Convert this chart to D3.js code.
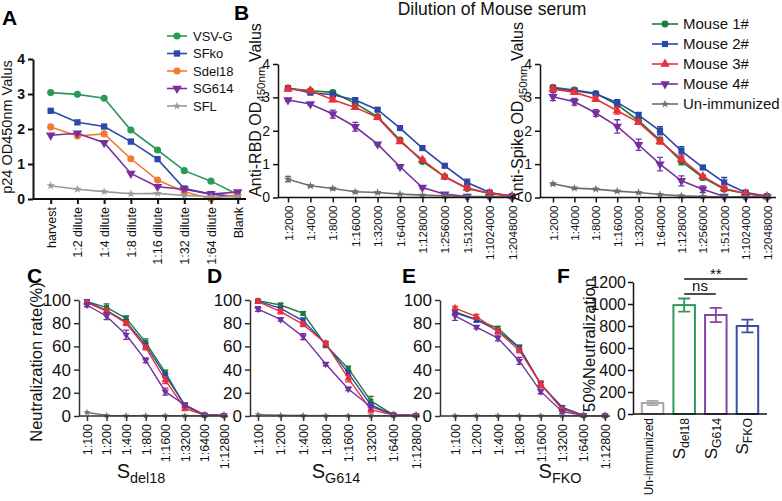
<!DOCTYPE html>
<html><head><meta charset="utf-8">
<script src="https://cdn.jsdelivr.net/npm/d3@7"></script>
<style>body{margin:0;background:#fff} svg{display:block;font-family:"Liberation Sans",Arial,sans-serif}</style>
</head><body><svg id="c" width="782" height="501"></svg>
<script>
// ---------- DATA ----------
const aCategories = ["harvest","1:2 dilute","1:4 dilute","1:8 dilute","1:16 dilute","1:32 dilute","1:64 dilute","Blank"];
const aSeriesNames = ["VSV-G","SFko","Sdel18","SG614","SFL"];
const aVSVG   = [3.04, 2.99, 2.88, 1.97, 1.40, 0.81, 0.51, 0.13];
const aSFko   = [2.52, 2.19, 2.07, 1.64, 1.14, 0.30, 0.14, 0.07];
const aSdel18 = [2.06, 1.80, 1.86, 1.15, 0.54, 0.21, 0.01, 0.13];
const aSG614  = [1.82, 1.88, 1.61, 0.73, 0.35, 0.28, 0.14, 0.20];
const aSFL    = [0.38, 0.28, 0.21, 0.15, 0.16, 0.10, 0.07, 0.06];
const aYTicks = [0,1,2,3,4];

const bCategories = ["1:2000","1:4000","1:8000","1:16000","1:32000","1:64000","1:128000","1:256000","1:512000","1:1024000","1:2048000"];
const mouseNames = ["Mouse 1#","Mouse 2#","Mouse 3#","Mouse 4#","Un-immunized"];
const rbdM1 = [3.27, 3.20, 3.15, 2.82, 2.42, 1.72, 1.08, 0.62, 0.27, 0.12, 0.04];
const rbdM2 = [3.28, 3.14, 3.08, 2.92, 2.63, 2.08, 1.48, 0.95, 0.45, 0.15, 0.04];
const rbdM3 = [3.25, 3.20, 2.93, 2.70, 2.40, 1.68, 1.13, 0.62, 0.28, 0.13, 0.04];
const rbdM4 = [2.92, 2.80, 2.50, 2.12, 1.60, 0.92, 0.30, 0.10, 0.03, 0.02, 0.01];
const rbdUn = [0.55, 0.35, 0.27, 0.17, 0.15, 0.10, 0.07, 0.05, 0.03, 0.03, 0.02];
const rbdErrM1 = [0.04,0.03,0.05,0.05,0.04,0.04,0.05,0.03,0.03,0.02,0.01];
const rbdErrM2 = [0.05,0.04,0.06,0.05,0.04,0.04,0.05,0.05,0.10,0.03,0.01];
const rbdErrM3 = [0.04,0.04,0.06,0.06,0.04,0.05,0.04,0.04,0.03,0.02,0.01];
const rbdErrM4 = [0.04,0.04,0.12,0.13,0.04,0.04,0.04,0.03,0.01,0.01,0.01];
const rbdErrUn = [0.08,0.03,0.03,0.02,0.02,0.01,0.01,0.01,0.01,0.01,0.01];
const spkM1 = [3.30, 3.22, 3.12, 2.78, 2.30, 1.72, 1.08, 0.60, 0.25, 0.12, 0.03];
const spkM2 = [3.27, 3.20, 3.10, 2.85, 2.47, 2.00, 1.40, 0.90, 0.45, 0.15, 0.04];
const spkM3 = [3.25, 3.15, 2.95, 2.60, 2.25, 1.68, 1.15, 0.63, 0.27, 0.12, 0.03];
const spkM4 = [3.02, 2.87, 2.53, 2.13, 1.58, 1.00, 0.50, 0.25, 0.03, 0.02, 0.01];
const spkUn = [0.41, 0.28, 0.25, 0.19, 0.15, 0.09, 0.05, 0.03, 0.02, 0.02, 0.01];
const spkErrM1 = [0.06,0.06,0.05,0.08,0.08,0.08,0.10,0.07,0.05,0.03,0.01];
const spkErrM2 = [0.06,0.06,0.05,0.08,0.08,0.12,0.12,0.04,0.15,0.04,0.01];
const spkErrM3 = [0.06,0.06,0.07,0.10,0.06,0.08,0.08,0.05,0.05,0.03,0.01];
const spkErrM4 = [0.12,0.10,0.10,0.20,0.17,0.20,0.15,0.10,0.02,0.01,0.01];
const spkErrUn = [0.03,0.02,0.02,0.02,0.02,0.01,0.01,0.01,0.01,0.01,0.01];
const bYTicks = [0,1,2,3,4];

const nCategories = ["1:100","1:200","1:400","1:800","1:1600","1:3200","1:6400","1:12800"];
const nYTicks = [0,20,40,60,80,100];
const cM1 = [98.6, 93.7, 84.2, 63.5, 37.6, 8.6, 0.9, 0.5];
const cM2 = [98.5, 91.0, 81.0, 61.0, 35.0, 9.5, 0.8, 0.5];
const cM3 = [97.7, 90.5, 80.0, 59.0, 31.0, 6.6, 0.8, 0.5];
const cM4 = [95.7, 86.0, 70.0, 48.0, 21.0, 9.5, 0.9, 0.5];
const cUn = [3.0, 0.5, 0.3, 0.3, 0.3, 0.3, 0.3, 0.3];
const cErrM1 = [1.5,3,2,3,2,1.5,0.5,0.3];
const cErrM2 = [1.5,2,2,2,2,1.5,0.5,0.3];
const cErrM3 = [1.5,2,2,2,3,2,0.5,0.3];
const cErrM4 = [1.5,3,4,2,3,1.5,0.5,0.3];
const dM1 = [99.5, 95.7, 88.5, 61.0, 41.0, 13.0, 1.0, 0.5];
const dM2 = [99.0, 92.8, 82.0, 62.0, 37.0, 9.5, 1.0, 0.5];
const dM3 = [98.6, 90.0, 79.0, 62.6, 32.5, 5.2, 1.0, 0.5];
const dM4 = [92.2, 83.3, 68.4, 44.8, 23.3, 8.0, 1.0, 0.5];
const dUn = [1.2, 0.6, 0.4, 0.3, 0.3, 0.3, 0.3, 0.3];
const dErrM1 = [1,1.5,1.5,2,2,4,0.5,0.3];
const dErrM2 = [1,1.5,2.5,2,2,2,0.5,0.3];
const dErrM3 = [1.5,2,2,2,3,2.5,0.5,0.3];
const dErrM4 = [2,1.5,2.5,1.5,1.5,2,0.5,0.3];
const eM1 = [90.0, 83.0, 75.7, 59.0, 27.0, 7.5, 0.5, 0.3];
const eM2 = [89.0, 83.0, 73.4, 58.8, 27.7, 7.3, 0.5, 0.3];
const eM3 = [93.0, 85.6, 73.0, 56.5, 27.7, 5.6, 0.5, 0.3];
const eM4 = [86.4, 76.6, 67.2, 47.5, 21.2, 3.7, 0.5, 0.3];
const eUn = [0.3, 0.3, 0.3, 0.3, 0.3, 0.3, 0.3, 0.3];
const eErrM1 = [2,2,1.5,2,2,1.5,0.5,0.3];
const eErrM2 = [2,2,1.5,2,2,1.5,0.5,0.3];
const eErrM3 = [1.5,2,2,2,2.5,1.5,0.5,0.3];
const eErrM4 = [4,1.5,2.5,3,2,1.5,0.5,0.3];

const fCategories = ["Un-immunized","Sdel18","SG614","SFKO"];
const fSubs = ["", "del18", "G614", "FKO"];
const fValues = [100, 990, 900, 800];
const fErrors = [20, 60, 65, 58];
const fYTicks = [0,200,400,600,800,1000,1200];

// ---------- STYLE ----------
const FONT = '"Liberation Sans",Arial,sans-serif';
const colA = ["#2b9a57","#2c48a8","#f47b2e","#7a2e9e","#9a9a9a"];
const colM = ["#1c7a3a","#2a46a8","#e8303a","#7530a0","#6e6e6e"];
const colF = ["#a8a8a8","#2e9a5a","#8a44a8","#3a4ea2"];
const symA = [d3.symbolCircle, d3.symbolSquare, d3.symbolCircle, "down", d3.symbolStar];
const symM = [d3.symbolCircle, d3.symbolSquare, d3.symbolTriangle, "down", d3.symbolStar];
const symN = [d3.symbolSquare, d3.symbolSquare, d3.symbolTriangle, "down", d3.symbolStar];
const fmtInt = d3.format("d");
const LABEL_ANGLE = -90;

const svg = d3.select("#c");

function drawSymbol(g, type, size, x, y, color) {
  if (type === "down") {
    g.append("path").attr("d", d3.symbol().type(d3.symbolTriangle).size(size)())
      .attr("transform", `translate(${x},${y}) rotate(180)`).attr("fill", color);
  } else {
    g.append("path").attr("d", d3.symbol().type(type).size(size)())
      .attr("transform", `translate(${x},${y})`).attr("fill", color);
  }
}

function rich(g, parts, size, anchor) {
  const t = g.append("text").attr("x", 0).attr("y", 0).attr("font-size", size)
    .attr("font-family", FONT).attr("fill", "#111").attr("text-anchor", anchor || "start");
  let shifted = false;
  parts.forEach(p => {
    const ts = t.append("tspan").text(p.t);
    if (p.sub) { ts.attr("dy", size * 0.24).attr("font-size", size * 0.72); shifted = true; }
    else if (shifted) { ts.attr("dy", -size * 0.24); shifted = false; }
  });
  return t;
}

function linePanel(o) {
  const g = svg.append("g");
  const x = d3.scalePoint().domain(o.cats).range(o.xr);
  const y = d3.scaleLinear().domain(o.yd).range(o.yr);
  o.series.forEach((s) => {
    const line = d3.line().x((d, i) => x(o.cats[i])).y(d => y(d));
    g.append("path").datum(s.v).attr("d", line).attr("fill", "none")
      .attr("stroke", s.c).attr("stroke-width", o.lw || 1.6);
    if (s.e) {
      s.v.forEach((v, i) => {
        const cx = x(o.cats[i]), e = s.e[i];
        const y1 = y(v + e), y2 = y(Math.max(0, v - e));
        g.append("path").attr("d", `M${cx},${y1}V${y2}M${cx-3},${y1}H${cx+3}M${cx-3},${y2}H${cx+3}`)
          .attr("stroke", s.c).attr("stroke-width", 1.3).attr("fill", "none");
      });
    }
    s.v.forEach((v, i) => drawSymbol(g, s.s, s.sz || 30, x(o.cats[i]), y(v), s.c));
  });
  const yAx = g.append("g").attr("transform", `translate(${o.ax},0)`)
    .call(d3.axisLeft(y).tickValues(o.yt).tickFormat(fmtInt).tickSize(o.tk || 5).tickSizeOuter(0).tickPadding(3));
  yAx.selectAll("text").attr("font-size", o.yfs).attr("font-family", FONT).attr("font-weight", o.yfw || "normal").attr("fill", "#111");
  const xAx = g.append("g").attr("transform", `translate(0,${y(0)})`)
    .call(d3.axisBottom(x).tickSize(o.tk || 5).tickSizeOuter(0));
  xAx.select(".domain").attr("d", `M${o.ax},0H${o.axEnd}`);
  xAx.selectAll(".tick text")
    .attr("x", 0).attr("y", 0).attr("dy", "0.35em").attr("text-anchor", "end")
    .attr("transform", `translate(0,${o.ly}) rotate(${LABEL_ANGLE})`)
    .attr("font-size", o.xfs).attr("font-family", FONT).attr("fill", "#111");
  [yAx, xAx].forEach(a => {
    a.selectAll(".domain").attr("stroke", o.axc || "#111").attr("stroke-width", o.aw || 1.5);
    a.selectAll(".tick line").attr("stroke", o.axc || "#111").attr("stroke-width", o.aw || 1.5);
  });
  return {g, x, y};
}

function panelLabel(txt, x, y) {
  svg.append("text").attr("x", x).attr("y", y).attr("font-size", 21).attr("font-weight", "bold")
    .attr("font-family", FONT).attr("fill", "#000").text(txt);
}

// ---------- PANEL A ----------
const aVals = [aVSVG, aSFko, aSdel18, aSG614, aSFL];
linePanel({
  cats: aCategories, xr: [50.7, 237.7], ax: 33, axEnd: 246,
  yd: [0, 4], yr: [199, 59], yt: aYTicks, yfs: 14, yfw: "bold", xfs: 12.5, ly: 8, aw: 2, lw: 1.6,
  series: aVals.map((v, i) => ({v, c: colA[i], s: symA[i], sz: i === 4 ? 22 : 40}))
});
svg.append("text").attr("transform", "translate(12,127) rotate(-90)").attr("text-anchor", "middle")
  .attr("font-size", 14.5).attr("font-family", FONT).attr("fill", "#111").text("p24 OD450nm Valus");
const legA = svg.append("g");
aSeriesNames.forEach((n, i) => {
  const yy = 36 + i * 17.5;
  legA.append("line").attr("x1", 167).attr("x2", 187).attr("y1", yy).attr("y2", yy).attr("stroke", colA[i]).attr("stroke-width", 1.6);
  drawSymbol(legA, symA[i], i === 4 ? 22 : 40, 177, yy, colA[i]);
  legA.append("text").attr("x", 193).attr("y", yy).attr("dy", "0.35em").attr("font-size", 13)
    .attr("font-family", FONT).attr("fill", "#111").text(n);
});
panelLabel("A", 2, 25);

// ---------- PANEL B ----------
const rbdVals = [rbdM1, rbdM2, rbdM3, rbdM4, rbdUn];
const rbdErrs = [rbdErrM1, rbdErrM2, rbdErrM3, rbdErrM4, rbdErrUn];
const spkVals = [spkM1, spkM2, spkM3, spkM4, spkUn];
const spkErrs = [spkErrM1, spkErrM2, spkErrM3, spkErrM4, spkErrUn];
linePanel({
  cats: bCategories, xr: [288, 512], ax: 278, axEnd: 516,
  yd: [0, 4], yr: [197.5, 64], yt: bYTicks, yfs: 14, xfs: 11.5, ly: 8, aw: 1.5, lw: 1.6,
  series: rbdVals.map((v, i) => ({v, e: rbdErrs[i], c: colM[i], s: symM[i], sz: i === 4 ? 22 : 38}))
});
linePanel({
  cats: bCategories, xr: [553, 767], ax: 540, axEnd: 776,
  yd: [0, 4], yr: [197.5, 64], yt: bYTicks, yfs: 14, xfs: 11.5, ly: 8, aw: 1.5, lw: 1.6,
  series: spkVals.map((v, i) => ({v, e: spkErrs[i], c: colM[i], s: symM[i], sz: i === 4 ? 22 : 38}))
});
rich(svg.append("g").attr("transform", "translate(261,110) rotate(-90)"),
  [{t: "Anti-RBD OD"}, {t: "450nm", sub: true}, {t: " Valus"}], 16, "middle");
rich(svg.append("g").attr("transform", "translate(523,112) rotate(-90)"),
  [{t: "Anti-Spike OD"}, {t: "450nm", sub: true}, {t: " Valus"}], 16, "middle");
svg.append("text").attr("x", 492).attr("y", 15).attr("text-anchor", "middle").attr("font-size", 17.5)
  .attr("font-family", FONT).attr("fill", "#111").text("Dilution of Mouse serum");
const legB = svg.append("g");
mouseNames.forEach((n, i) => {
  const yy = 24 + i * 20;
  legB.append("line").attr("x1", 652).attr("x2", 678).attr("y1", yy).attr("y2", yy).attr("stroke", colM[i]).attr("stroke-width", 1.6);
  drawSymbol(legB, symM[i], i === 4 ? 22 : 38, 665, yy, colM[i]);
  legB.append("text").attr("x", 683).attr("y", yy).attr("dy", "0.35em").attr("font-size", 15)
    .attr("font-family", FONT).attr("fill", "#111").text(n);
});
panelLabel("B", 234, 20);

// ---------- PANELS C, D, E ----------
const nPanels = [
  {vals: [cM1, cM2, cM3, cM4, cUn], errs: [cErrM1, cErrM2, cErrM3, cErrM4, null], xr: [87, 224], ax: 79, axEnd: 228, lab: "C", lx0: 27, sub: "del18", sx: 141},
  {vals: [dM1, dM2, dM3, dM4, dUn], errs: [dErrM1, dErrM2, dErrM3, dErrM4, null], xr: [258, 416], ax: 250, axEnd: 420, lab: "D", lx0: 207, sub: "G614", sx: 336},
  {vals: [eM1, eM2, eM3, eM4, eUn], errs: [eErrM1, eErrM2, eErrM3, eErrM4, null], xr: [455, 605], ax: 440, axEnd: 610, lab: "E", lx0: 402, sub: "FKO", sx: 560}
];
nPanels.forEach(p => {
  linePanel({
    cats: nCategories, xr: p.xr, ax: p.ax, axEnd: p.axEnd,
    yd: [0, 100], yr: [416, 300], yt: nYTicks, yfs: 17, xfs: 12.5, ly: 8, aw: 1.5, axc: "#333", lw: 1.4,
    series: p.vals.map((v, i) => ({v, e: p.errs[i], c: colM[i], s: symN[i], sz: i === 4 ? 16 : 24}))
  });
  panelLabel(p.lab, p.lx0, 283);
  rich(svg.append("g").attr("transform", `translate(${p.sx},478)`), [{t: "S"}, {t: p.sub, sub: true}], 20, "middle");
});
svg.append("text").attr("transform", "translate(42,362) rotate(-90)").attr("text-anchor", "middle")
  .attr("font-size", 16.5).attr("font-family", FONT).attr("fill", "#111").text("Neutralization rate(%)");

// ---------- PANEL F ----------
const gF = svg.append("g");
const xF = d3.scaleBand().domain(fCategories).range([638, 762]).paddingInner(0.32).paddingOuter(0.12);
const yF = d3.scaleLinear().domain([0, 1200]).range([414, 282]);
fCategories.forEach((c, i) => {
  const bx = xF(c), bw = xF.bandwidth(), cx = bx + bw / 2;
  gF.append("rect").attr("x", bx).attr("y", yF(fValues[i])).attr("width", bw).attr("height", yF(0) - yF(fValues[i]))
    .attr("fill", "#fff").attr("stroke", colF[i]).attr("stroke-width", 2);
  const y1 = yF(fValues[i] + fErrors[i]), y2 = yF(fValues[i] - fErrors[i]);
  gF.append("path").attr("d", `M${cx},${y1}V${y2}M${cx-6},${y1}H${cx+6}M${cx-6},${y2}H${cx+6}`)
    .attr("stroke", colF[i]).attr("stroke-width", 1.8).attr("fill", "none");
});
const yAxF = gF.append("g").attr("transform", "translate(633,0)")
  .call(d3.axisLeft(yF).tickValues(fYTicks).tickFormat(fmtInt).tickSize(5).tickSizeOuter(0).tickPadding(2));
yAxF.selectAll("text").attr("font-size", 16).attr("font-family", FONT).attr("fill", "#111");
const xAxF = gF.append("g").attr("transform", `translate(0,${yF(0)})`).call(d3.axisBottom(xF).tickSize(0).tickSizeOuter(0));
xAxF.select(".domain").attr("d", "M633,0H767");
xAxF.selectAll(".tick text").remove();
[yAxF, xAxF].forEach(a => a.selectAll(".domain,.tick line").attr("stroke", "#111").attr("stroke-width", 1.5));
fCategories.forEach((c, i) => {
  const cx = xF(c) + xF.bandwidth() / 2;
  const parts = fSubs[i] ? [{t: "S"}, {t: fSubs[i], sub: true}] : [{t: c}];
  const fs = fSubs[i] ? 17 : 12;
  rich(gF.append("g").attr("transform", `translate(${cx - fs * 0.3},${yF(0) + 4}) rotate(${LABEL_ANGLE})`), parts, fs, "end")
    .attr("dy", "0.35em");
});
svg.append("text").attr("transform", "translate(595,345) rotate(-90)").attr("text-anchor", "middle")
  .attr("font-size", 16.5).attr("font-family", FONT).attr("fill", "#111").text("50%Neutralization");
const sCx = i => xF(fCategories[i]) + xF.bandwidth() / 2;
gF.append("line").attr("x1", sCx(1)).attr("x2", sCx(3)).attr("y1", 279).attr("y2", 279).attr("stroke", "#111").attr("stroke-width", 1.5);
gF.append("text").attr("x", (sCx(1) + sCx(3)) / 2).attr("y", 279).attr("text-anchor", "middle").attr("font-size", 15)
  .attr("font-family", FONT).attr("fill", "#111").text("**");
gF.append("line").attr("x1", sCx(1)).attr("x2", sCx(2)).attr("y1", 294).attr("y2", 294).attr("stroke", "#111").attr("stroke-width", 1.5);
gF.append("text").attr("x", (sCx(1) + sCx(2)) / 2).attr("y", 291).attr("text-anchor", "middle").attr("font-size", 15)
  .attr("font-family", FONT).attr("fill", "#111").text("ns");
panelLabel("F", 557, 283);
</script></body></html>
